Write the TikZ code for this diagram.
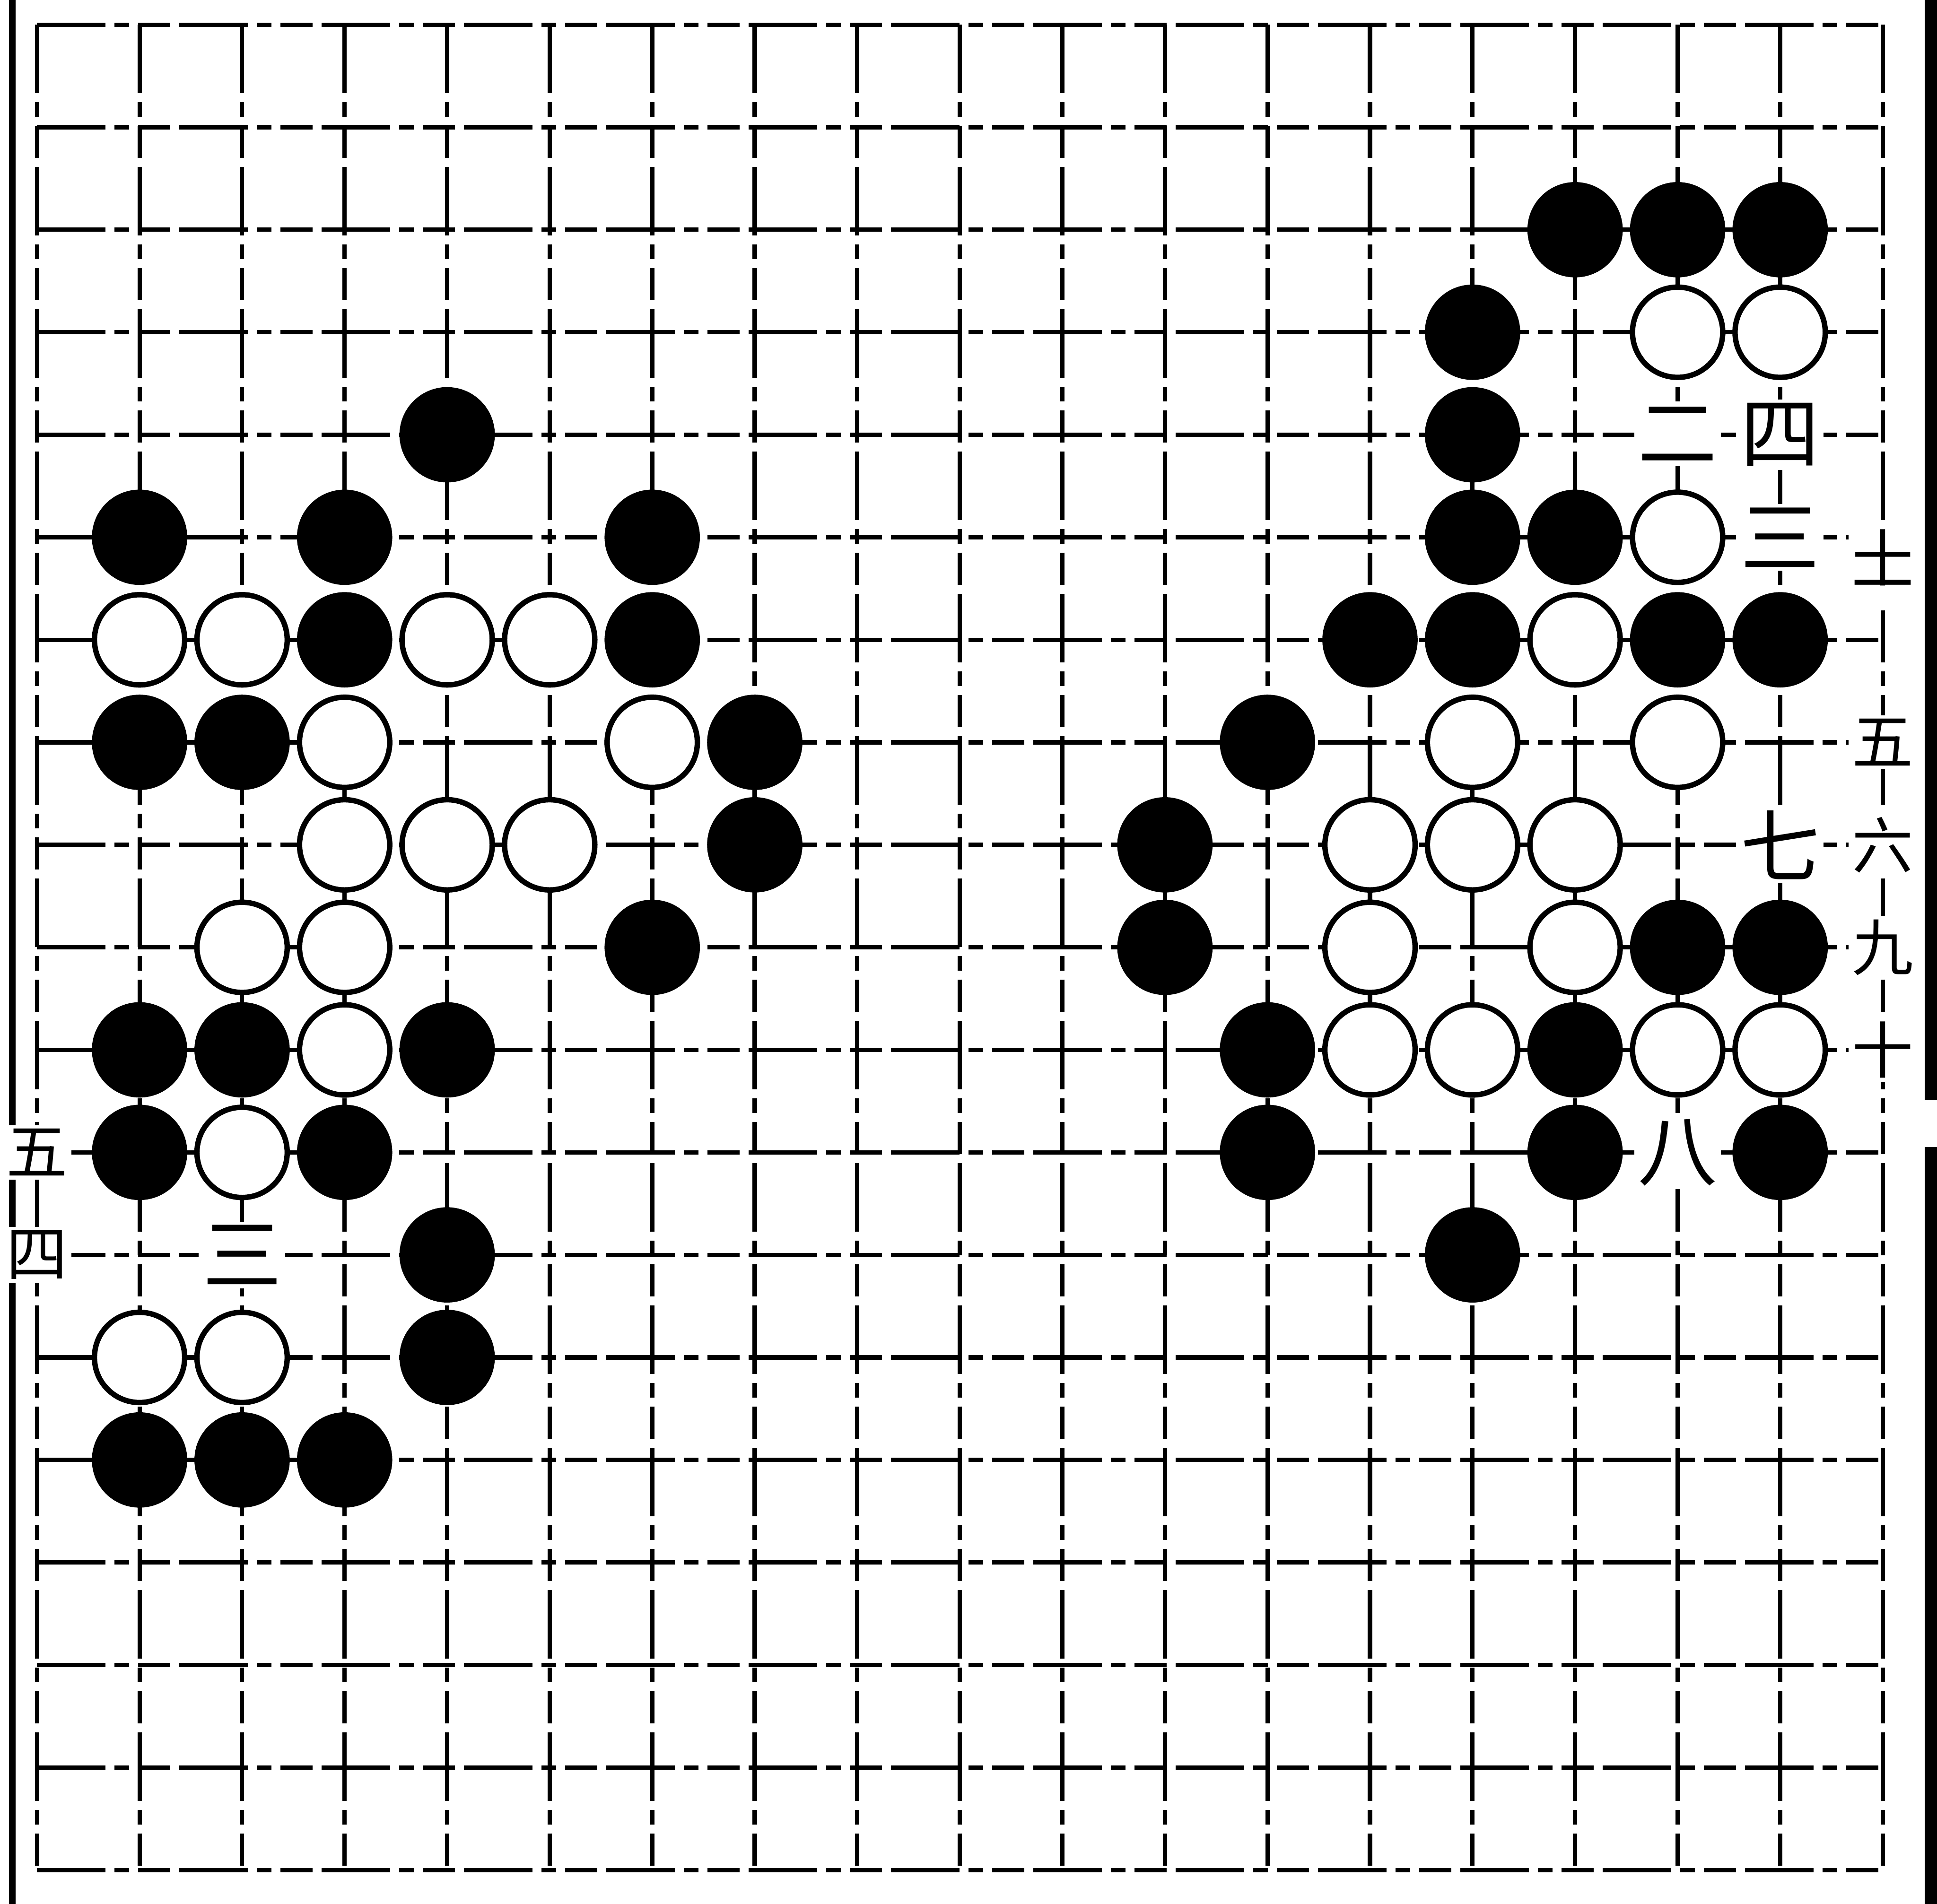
\documentclass[tikz,border=0pt]{standalone}
\usepackage{fontspec}
\newfontfamily\cjk{Noto Sans CJK SC}
\usetikzlibrary{positioning}

\begin{document}
\begin{tikzpicture}[
    gridline/.style={line width=1.2pt, dash pattern=on 19pt off 2.5pt on 4pt off 2.5pt on 9pt off 2.5pt},
    bstone/.style={circle, fill=black, minimum size=0.93cm, inner sep=0pt},
    wstone/.style={circle, draw=black, line width=1.5pt, fill=white, minimum size=0.88cm, inner sep=0pt},
    lab/.style={fill=white, inner sep=1pt, font=\cjk\fontsize{22}{22}\selectfont},
    edgelab/.style={fill=white, inner sep=1pt, font=\cjk\fontsize{17}{17}\selectfont}]
    \useasboundingbox (-0.361, 0.241) rectangle (18.53, -18.33);
    % board
    \foreach \i in {0,...,18} {
        \draw[gridline] (\i, 0) -- (\i, -18);
        \draw[gridline] (0, -\i) -- (18, -\i);
    }
    % page frame
    \draw[line width=1.8pt] (-0.24, 0.241) -- (-0.24, -18.33);
    \draw[line width=3.3pt] (18.47, 0.241) -- (18.47, -10.49);
    \draw[line width=3.3pt] (18.47, -10.95) -- (18.47, -18.33);
    % black stones
    \foreach \c/\r in {4/4, 1/5, 3/5, 6/5, 3/6, 6/6, 1/7, 2/7, 7/7, 7/8, 6/9,
                       1/10, 2/10, 4/10, 1/11, 3/11, 4/12, 4/13, 1/14, 2/14, 3/14,
                       15/2, 16/2, 17/2, 14/3, 14/4, 14/5, 15/5, 13/6, 14/6, 16/6, 17/6,
                       12/7, 11/8, 11/9, 16/9, 17/9, 12/10, 15/10, 12/11, 15/11, 17/11, 14/12} {
        \node[bstone] (b-\c-\r) at (\c, -\r) {};
    }
    % white stones
    \foreach \c/\r in {1/6, 2/6, 4/6, 5/6, 3/7, 6/7, 3/8, 4/8, 5/8, 2/9, 3/9, 3/10, 2/11, 1/13, 2/13,
                       16/3, 17/3, 16/5, 15/6, 14/7, 16/7, 13/8, 14/8, 15/8, 13/9, 15/9,
                       13/10, 14/10, 16/10, 17/10} {
        \node[wstone] (w-\c-\r) at (\c, -\r) {};
    }
    % move numbers
    \foreach \c/\r/\t/\n in {16/4/二/two, 17/4/四/four, 17/5/三/three, 17/8/七/seven, 16/11/八/eight, 2/12/三/lthree} {
        \node[lab] (n-\n) at (\c, -\r) {\t};
    }
    \foreach \c/\r/\t/\n in {18/7/五/five, 18/8/六/six, 18/9/九/nine, 18/10/十/ten, 0/11/五/lfive, 0/12/四/lfour} {
        \node[edgelab] (n-\n) at (\c, -\r) {\t};
    }
    \node[edgelab] (n-eleven) at (18, -5.3) {\rlap{十}\raisebox{-0.42em}{一}};
\end{tikzpicture}
\end{document}
